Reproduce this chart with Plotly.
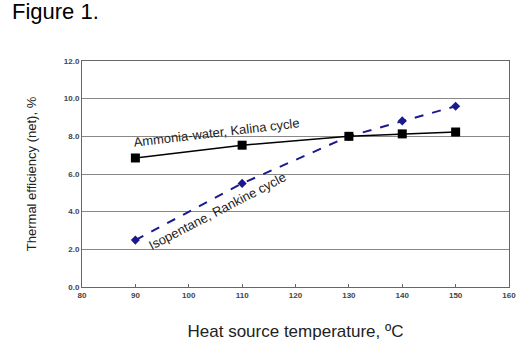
import plotly.graph_objects as go

temps = [90, 110, 130, 140, 150]
kalina = [6.85, 7.53, 8.0, 8.13, 8.23]
rankine = [2.49, 5.50, 8.0, 8.82, 9.6]
x_ticks = [80, 90, 100, 110, 120, 130, 140, 150, 160]
y_ticks = [0, 2, 4, 6, 8, 10, 12]

FONT = "Liberation Sans, Arial, sans-serif"
TICKFONT = dict(family=FONT, size=8, color="#444", weight="bold")

fig = go.Figure()
fig.add_trace(go.Scatter(x=temps, y=rankine, mode="lines+markers",
                         line=dict(color="#1a1a8e", width=2, dash="dash"),
                         marker=dict(symbol="diamond", size=7, color="#1a1a8e"),
                         showlegend=False))
fig.add_trace(go.Scatter(x=temps, y=kalina, mode="lines+markers",
                         line=dict(color="black", width=1.5),
                         marker=dict(symbol="square", size=9, color="black"),
                         showlegend=False))

fig.add_annotation(x=105.2, y=8.22, xref="x", yref="y", text="Ammonia-water, Kalina cycle",
                   showarrow=False, textangle=-6.7, font=dict(family=FONT, size=13, color="#222"))
fig.add_annotation(x=105.2, y=4.03, xref="x", yref="y", text="Isopentane, Rankine cycle",
                   showarrow=False, textangle=-27.4, font=dict(family=FONT, size=13, color="#222"))

fig.update_layout(
    width=520, height=341,
    margin=dict(l=82, r=11, t=61, b=54, autoexpand=False),
    paper_bgcolor="white", plot_bgcolor="white",
    font=dict(family=FONT, color="black"),
    title=dict(text="Figure 1.", x=12 / 520, xanchor="left", xref="container",
               y=1 - 11 / 341, yanchor="middle", yref="container", pad=dict(t=0, b=0, l=0, r=0),
               font=dict(family=FONT, size=22, color="black")),
)
fig.update_xaxes(range=[80, 160], tickvals=x_ticks, ticktext=[str(v) for v in x_ticks],
                 showgrid=False, zeroline=False, showline=True, linecolor="#666", linewidth=1,
                 mirror=True, ticks="inside", ticklen=3, tickcolor="#666", automargin=False,
                 tickfont=TICKFONT,
                 title=dict(text="Heat source temperature, ºC", font=dict(family=FONT, size=17, color="#222"), standoff=32))
fig.update_yaxes(range=[0, 12], tickvals=y_ticks, ticktext=[f"{v:.1f}" for v in y_ticks],
                 showgrid=True, gridcolor="#888", gridwidth=1, zeroline=False,
                 showline=True, linecolor="#666", linewidth=1, mirror=True, ticks="", automargin=False,
                 tickfont=TICKFONT,
                 title=dict(text="Thermal efficiency (net), %", font=dict(family=FONT, size=13, color="#222"), standoff=24))

fig.write_html("out.html", config={"displayModeBar": False},
               post_script="document.body.style.margin='0';")
